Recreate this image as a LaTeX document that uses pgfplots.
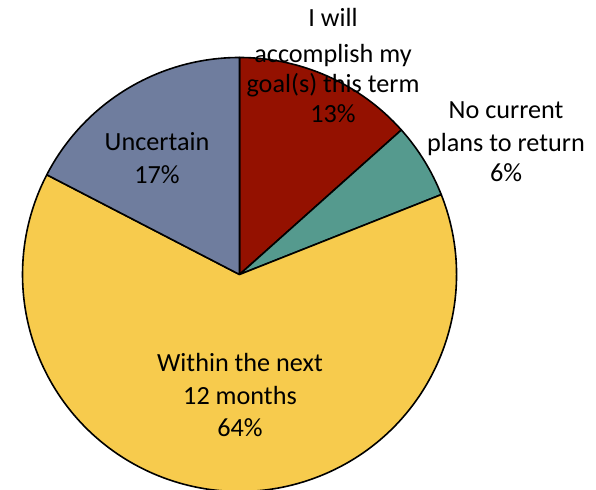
\documentclass[border=0pt]{standalone}
\usepackage{fontspec}
\setmainfont{Carlito}
\usepackage{pgfplots}
\usepackage{pgfplotstable}
\pgfplotsset{compat=1.18}
\definecolor{cRed}{RGB}{148,17,0}
\definecolor{cTeal}{RGB}{85,154,142}
\definecolor{cYellow}{RGB}{247,203,77}
\definecolor{cSlate}{RGB}{111,125,158}
\tikzset{lbl/.style={font=\fontsize{26.3}{32}\selectfont, text=black, inner sep=0pt, anchor=base}}

% share of each answer, in percent, clockwise from 12 o'clock
\pgfplotstableread{
value color
13.4  cRed
5.6   cTeal
63.6  cYellow
17.4  cSlate
}\piedata

\begin{document}
\begin{tikzpicture}
\begin{axis}[
    name=ax,
    x=1bp, y=1bp,
    xmin=0, xmax=596, ymin=0, ymax=490,
    hide axis, clip=false,
]
\xdef\cum{0}
\pgfplotsinvokeforeach{0,...,3}{
  \pgfplotstablegetelem{#1}{value}\of\piedata \let\v\pgfplotsretval
  \pgfplotstablegetelem{#1}{color}\of\piedata \let\c\pgfplotsretval
  \pgfmathsetmacro\aS{90-3.6*\cum}
  \pgfmathsetmacro\aE{90-3.6*(\cum+\v)}
  \edef\temp{\noexpand\filldraw[fill=\c, draw=black, line width=1.6bp, line join=round]
    (axis cs:239.5,215.5) -- ++(\aS:217bp) arc[start angle=\aS, end angle=\aE, radius=217bp] -- cycle;}
  \temp
  \pgfmathsetmacro\tmp{\cum+\v}
  \xdef\cum{\tmp}
}
% labels (y measured from bottom)
\node[lbl] at (axis cs:333,463) {I will};
\node[lbl] at (axis cs:333,427.5) {accomplish my};
\node[lbl] at (axis cs:333,397) {goal(s) this term};
\node[lbl] at (axis cs:333,367.5) {13\%};
\node[lbl] at (axis cs:506,371.7) {No current};
\node[lbl] at (axis cs:506,338.5) {plans to return};
\node[lbl] at (axis cs:506,308.3) {6\%};
\node[lbl] at (axis cs:157,339.3) {Uncertain};
\node[lbl] at (axis cs:157,306.7) {17\%};
\node[lbl] at (axis cs:240,118.3) {Within the next};
\node[lbl] at (axis cs:240,85) {12 months};
\node[lbl] at (axis cs:240,53.3) {64\%};
\end{axis}
\pgfresetboundingbox
\path (ax.south west) rectangle (ax.north east);
\end{tikzpicture}
\end{document}
